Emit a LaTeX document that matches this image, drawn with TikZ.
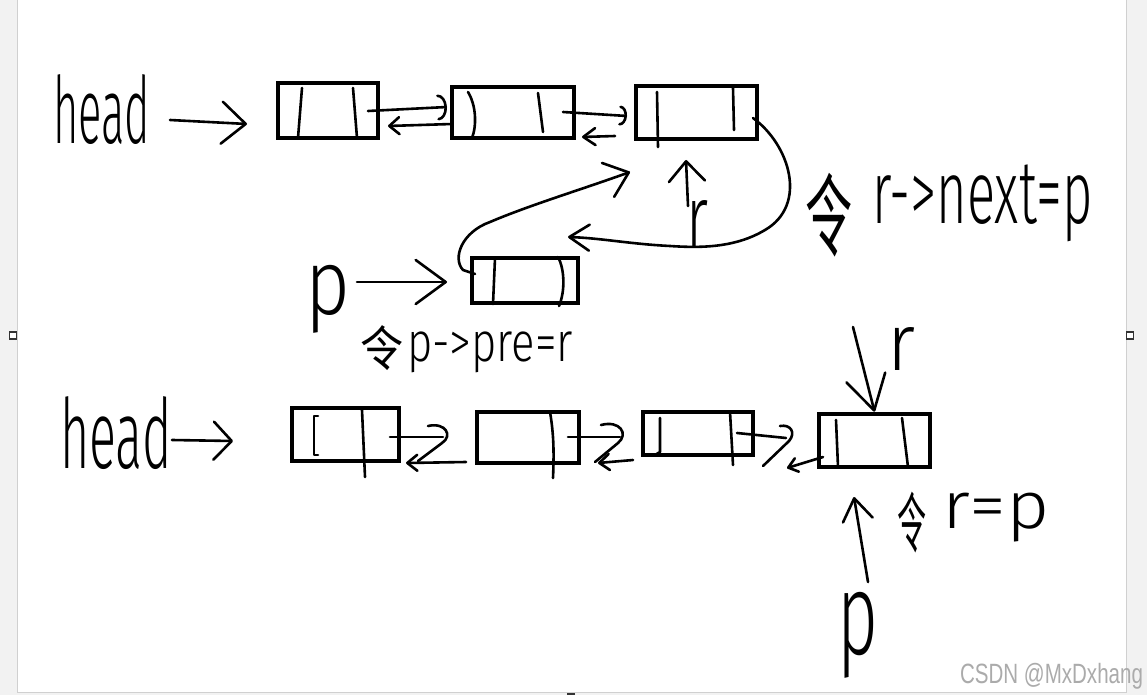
\documentclass[tikz,border=0pt]{standalone}
\usepackage{fontspec}
\usepackage{graphicx}
\setmainfont{Fira Sans Light}
\newfontfamily\cjk{Noto Sans CJK SC}
\newfontfamily\wm{Liberation Sans}
\usetikzlibrary{arrows.meta}
\definecolor{pagebg}{HTML}{F2F2F2}
\definecolor{edgegray}{HTML}{D0D0D0}
\definecolor{wmgray}{HTML}{ABABAB}
\newcommand\hw[3]{\resizebox*{#1}{#2}{#3}}
\begin{document}
\begin{tikzpicture}[x=1pt,y=-1pt,
  stroke/.style={line width=2.6pt,line cap=round,line join=round},
  cell/.style 2 args={draw,line width=4.6pt,minimum width=#1,minimum height=#2,inner sep=0pt},
  txt/.style={inner sep=0pt,outer sep=0pt,anchor=north west},
  barb/.style 2 args={-{Straight Barb[round,length=#1,width=#2]}},
  arcb/.style 2 args={-{Arc Barb[round,length=#1,width=#2]}}]
\useasboundingbox (0,0) rectangle (1147,695);
% page
\fill[pagebg] (0,0) rectangle (1147,695);
\fill[white] (17,0) rectangle (1126,692);
\draw[edgegray,line width=1pt] (17,0) -- (17,692) -- (1126,692) -- (1126,0);
\draw[black!80,fill=white,line width=1.4pt] (9.5,332) rectangle (16.5,339);
\draw[black!80,fill=white,line width=1.4pt] (1126.5,332) rectangle (1133.5,339);
\fill[black!80] (567,693) rectangle (575,695);

% ---------- top row ----------
\node[cell={100pt}{55pt}] (T1) at (328,110.5) {};
\node[cell={122pt}{51pt}] (T2) at (513,112.5) {};
\node[cell={121pt}{53pt}] (T3) at (696.5,112.5) {};
\node[cell={106pt}{45pt}] (P) at (525,280.5) {};
% dividers
\draw[stroke] (302,88) -- (298,138);
\draw[stroke] (353,88) -- (357,138);
\draw[stroke] (468,92) .. controls (476,105) and (477,125) .. (472,138);
\draw[stroke] (538,93) -- (543,132);
\draw[stroke] (657,92) -- (658,147);
\draw[stroke] (733,88) -- (734,130);
\draw[stroke] (495,258) -- (493,304);
\draw[stroke] (558,257) .. controls (565,270) and (565,292) .. (559,306);

% labels
\node[txt] (headA) at (53,75) {\hw{97pt}{70pt}{head}};
\node[txt] (pA) at (305,265) {\hw{45pt}{68pt}{p}};
\node[txt] (lingA) at (360,326) {\hw{43pt}{45pt}{\cjk 令}};
\node[txt] (preA) at (407,332) {\hw{166pt}{41pt}{p->pre=r}};
\node[txt] (rA) at (686,200) {\hw{22pt}{48pt}{r}};
\node[txt] (lingB) at (805,173) {\hw{47pt}{84pt}{\cjk 令}};
\node[txt] (nextA) at (872,165) {\hw{221pt}{77pt}{r->next=p}};

% connectors top
\coordinate (ha1) at (170,120);
\coordinate (ha2) at (247,124);
\draw[stroke,barb={24pt}{42pt}] (ha1) -- (ha2);
\coordinate (t1f) at (368,111);
\coordinate (t2f) at (447,107);
\draw[stroke,arcb={9pt}{26pt}] (t1f) -- (t2f);
\coordinate (t2b) at (452,124);
\coordinate (t1b) at (388,126);
\draw[stroke,barb={10pt}{17pt}] (t2b) -- (t1b);
\coordinate (t2f2) at (563,112);
\coordinate (t3f) at (627,116);
\draw[stroke,arcb={7pt}{20pt}] (t2f2) -- (t3f);
\coordinate (t3b) at (615,136);
\coordinate (t2b2) at (582,137);
\draw[stroke,barb={12pt}{17pt}] (t3b) -- (t2b2);
% p arrow
\coordinate (pa1) at (357,282);
\coordinate (pa2) at (447,282);
\draw[stroke,barb={30pt}{44pt}] (pa1) -- (pa2);
% r up arrow
\draw[stroke,barb={20pt}{36pt}] (688,206) -- (686,160);
% r->next = p curve
\coordinate (nxs) at (753,118);
\coordinate (nxe) at (568,237);
\draw[stroke,barb={20pt}{26pt}] (nxs) .. controls (790,145) and (808,205) .. (765,230)
   .. controls (735,248) and (700,248) .. (670,246) .. controls (630,244) and (600,238) .. (nxe);
% p->pre = r curve
\coordinate (prs) at (475,274);
\coordinate (pre) at (630,172);
\draw[stroke,barb={22pt}{36pt}] (prs) -- (463,270) .. controls (452,258) and (462,232) .. (490,222)
   .. controls (530,205) and (580,190) .. (pre);

% ---------- bottom row ----------
\node[cell={107pt}{53pt}] (B1) at (345.5,434.5) {};
\node[cell={102pt}{51pt}] (B2) at (528,437.5) {};
\node[cell={110pt}{43pt}] (B3) at (698,433.5) {};
\node[cell={111pt}{53pt}] (B4) at (874.5,440.5) {};
\draw[stroke] (318,416) -- (314,416) -- (314,455) -- (318,455);
\draw[stroke] (362,410) -- (365,477);
\draw[stroke] (550,412) .. controls (554,435) and (554,455) .. (553,478);
\draw[stroke] (660,418) -- (660,452) -- (655,455);
\draw[stroke] (730,412) -- (733,465);
\draw[stroke] (836,420) -- (838,467);
\draw[stroke] (902,418) -- (908,467);

\node[txt] (headB) at (60,397) {\hw{112pt}{73pt}{head}};
\node[txt] (rB) at (887,327) {\hw{28pt}{43pt}{r}};
\node[txt] (lingC) at (897,492) {\hw{29pt}{61pt}{\cjk 令}};
\node[txt] (eqB) at (942,493) {\hw{108pt}{49pt}{r=p}};
\node[txt] (pB) at (837,592) {\hw{41pt}{86pt}{p}};
\node[txt,text=wmgray] (wmk) at (960,663) {\hw{183pt}{26pt}{\wm CSDN @MxDxhang}};

\coordinate (hb1) at (172,440);
\coordinate (hb2) at (233,441);
\draw[stroke,barb={18pt}{38pt}] (hb1) -- (hb2);
% B1 <-> B2
\coordinate (b1f) at (390,437);
\coordinate (b2h) at (443,437);
\draw[stroke] (b1f) -- (b2h);
\draw[stroke] (428,426) .. controls (446,422) and (453,436) .. (442,443) -- (418,461);
\coordinate (b2b) at (466,462);
\coordinate (b1b) at (406,463);
\draw[stroke,barb={10pt}{16pt}] (b2b) -- (b1b);
% B2 <-> B3
\coordinate (b2f) at (568,437);
\coordinate (b3h) at (620,437);
\draw[stroke] (b2f) -- (b3h);
\draw[stroke] (601,425) .. controls (620,420) and (629,434) .. (618,443) -- (595,462);
\coordinate (b3b) at (633,460);
\coordinate (b2b2) at (598,463);
\draw[stroke,barb={10pt}{16pt}] (b3b) -- (b2b2);
% B3 <-> B4
\coordinate (b3f) at (737,433);
\coordinate (b4h) at (786,438);
\draw[stroke] (b3f) -- (b4h);
\draw[stroke] (780,426) .. controls (791,424) and (796,433) .. (789,441) -- (763,466);
\coordinate (b4b) at (823,457);
\coordinate (b3b2) at (787,468);
\draw[stroke,barb={9pt}{14pt}] (b4b) -- (b3b2);
% r down, p up
\coordinate (rd1) at (853,327);
\draw[stroke,barb={34pt}{40pt}] (rd1) -- (B4.north);
\coordinate (pu1) at (868,582);
\draw[stroke,barb={22pt}{30pt}] (pu1) -- (854,497);
\end{tikzpicture}
\end{document}
